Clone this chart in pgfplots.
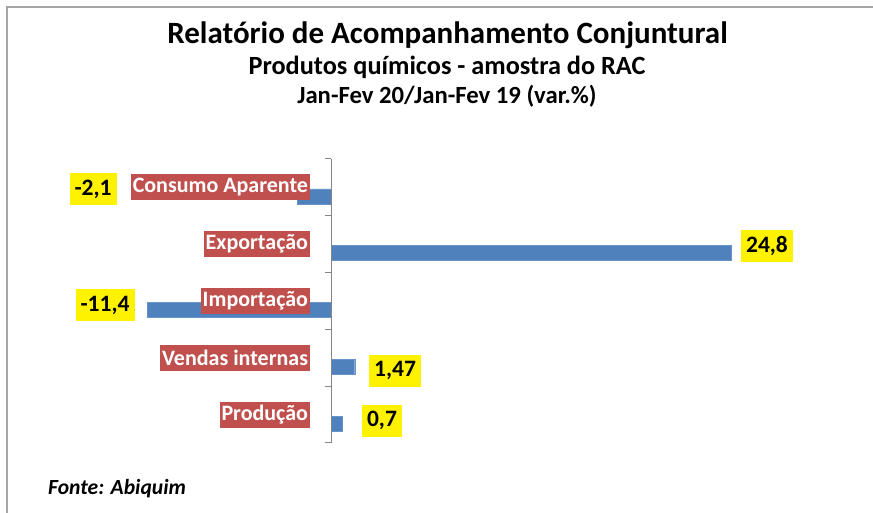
\documentclass[border=0pt]{standalone}
\usepackage{fontspec}
\setmainfont{Carlito}
\usepackage{pgfplots}
\pgfplotsset{compat=1.18}
\definecolor{barblue}{HTML}{4F81BD}
\definecolor{labred}{HTML}{C0504D}
\definecolor{framegray}{HTML}{A6A6A6}
\definecolor{axgray}{HTML}{868686}
\begin{document}
\begin{tikzpicture}[x=1pt,y=1pt,
  yl/.style={fill=yellow, font=\fontsize{23.5}{26}\selectfont\bfseries, inner xsep=5pt, minimum height=32pt}]
\begin{axis}[
  scale only axis, width=596.8pt, height=284pt,
  xmin=-12, xmax=25, ymin=0.5, ymax=5.5,
  axis x line=none, axis y line=middle,
  axis line style={-, axgray, line width=1pt},
  axis on top,
  clip=false,
  xbar, bar width=15pt,
  ytick={0.5,1.5,2.5,3.5,4.5,5.5},
  yticklabels={},
  major tick length=6pt, tick align=outside,
  tick style={axgray, line width=1pt},
  extra y ticks={1,2,3,4,5},
  extra y tick labels={Produção, Vendas internas, Importação, Exportação, Consumo Aparente},
  extra y tick style={major tick length=0pt,
    yticklabel style={anchor=east, fill=labred, text=white, font=\fontsize{22}{24}\selectfont\bfseries, inner xsep=1.8pt, inner ysep=0pt, minimum height=26pt, xshift=-21pt}},
]
\addplot[fill=barblue, draw=barblue!85!white, bar shift=-9pt] coordinates {(0.7,1) (1.47,2) (-11.4,3) (24.8,4) (-2.1,5)};
\node[yl] at (axis cs:-14.75,4.97) {-2,1};
\node[yl] at (axis cs:27.03,3.97) {24,8};
\node[yl] at (axis cs:-14.01,2.93) {-11,4};
\node[yl] at (axis cs:3.97,1.77) {1,47};
\node[yl] at (axis cs:3.16,0.89) {0,7};
\coordinate (O) at (axis cs:0,0.5);
\end{axis}
\begin{scope}[shift={(O)}, xshift=-331pt, yshift=-70pt]
\draw[framegray, line width=2pt] (7,0) -- (7,506) -- (873,506);
\node[anchor=base, font=\fontsize{31}{34}\selectfont\bfseries] at (447.5,469.7) {Relatório de Acompanhamento Conjuntural};
\node[anchor=base, font=\fontsize{26.3}{28}\selectfont\bfseries] at (447,438.7) {Produtos químicos - amostra do RAC};
\node[anchor=base, font=\fontsize{24.7}{28}\selectfont\bfseries] at (447,409.3) {Jan-Fev 20/Jan-Fev 19 (var.\%)};
\node[anchor=base west, inner sep=0pt, font=\fontsize{21.6}{24}\selectfont\bfseries\itshape] at (48,18) {Fonte: Abiquim};
\coordinate (BL) at (0,0);
\coordinate (TR) at (873,513);
\end{scope}
\pgfresetboundingbox
\path[use as bounding box] (BL) rectangle (TR);
\end{tikzpicture}
\end{document}
